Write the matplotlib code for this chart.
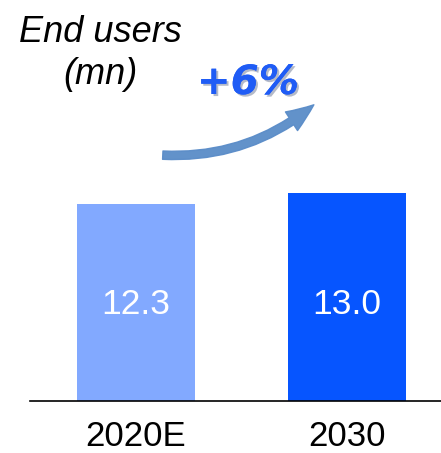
import matplotlib.pyplot as plt
from matplotlib.patches import FancyArrowPatch
import matplotlib.patheffects as pe

categories = ['2020E', '2030']
values = [12.3, 13.0]
bar_colors = ['#82a9ff', '#0655ff']
growth_label = '+6%'

plt.rcParams['font.family'] = ['Liberation Sans', 'DejaVu Sans']

fig = plt.figure(figsize=(4.41, 4.53), dpi=100)
ax = fig.add_axes([30 / 441, 52 / 453, 411 / 441, 401 / 453])

x = range(len(categories))
bars = ax.bar(x, values, width=0.559, color=bar_colors)
for b, v in zip(bars, values):
    ax.text(b.get_x() + b.get_width() / 2, 6.0, f'{v:.1f}', ha='center', va='center',
            color='white', fontsize=25.5)

ax.set_xlim(-0.502, 1.445)
ax.set_ylim(0, 401 / 16)
ax.set_xticks(list(x))
ax.set_xticklabels(categories, fontsize=25)
ax.tick_params(axis='x', length=0, pad=14)
ax.set_yticks([])
for s in ['top', 'left', 'right']:
    ax.spines[s].set_visible(False)
ax.spines['bottom'].set_linewidth(1.2)

# title in upper left
fig.text(100 / 441, 1 - 33 / 453, 'End users', ha='center', va='center',
         fontsize=26, style='italic')
fig.text(100 / 441, 1 - 75 / 453, '(mn)', ha='center', va='center',
         fontsize=26, style='italic')

# growth arrow
arrow = FancyArrowPatch((160 / 441, 1 - 155 / 453), (316 / 441, 1 - 103 / 453),
                        transform=fig.transFigure, connectionstyle='arc3,rad=0.2',
                        arrowstyle='simple,head_width=16,head_length=20,tail_width=6',
                        color='#5a8cc8', alpha=0.95)
fig.patches.append(arrow)

fig.text(248 / 441, 1 - 83 / 453, growth_label, ha='center', va='center',
         fontsize=29, fontweight='bold', style='italic', color='#1f5cf5',
         family=['DejaVu Sans'],
         path_effects=[pe.withSimplePatchShadow(offset=(1.5, -1.5), alpha=0.3),
                       pe.Normal()])

fig.savefig('out.png', dpi=100)
